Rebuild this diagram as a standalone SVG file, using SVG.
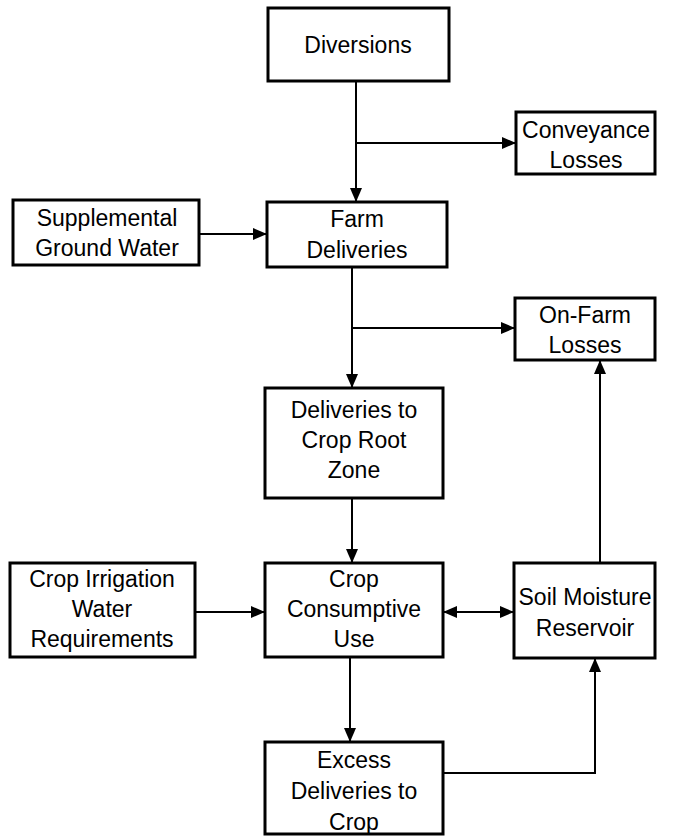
<svg xmlns="http://www.w3.org/2000/svg" width="683" height="838" viewBox="0 0 683 838">
<defs>
<marker id="ah" viewBox="0 0 14 12" refX="14" refY="6" markerWidth="14" markerHeight="12" markerUnits="userSpaceOnUse" orient="auto-start-reverse">
<path d="M0,0 L14,6 L0,12 Z" fill="#000"/>
</marker>
</defs>
<style>
.box{fill:#fff;stroke:#000;stroke-width:3}
.t{font-family:"Liberation Sans",Arial,sans-serif;font-size:23px;fill:#000;text-anchor:middle}
.c{fill:none;stroke:#000;stroke-width:2}
</style>
<rect width="683" height="838" fill="#fff"/>
<g id="connectors">
<path class="c" d="M356,81 V202" marker-end="url(#ah)"/>
<path class="c" d="M356,143 H516" marker-end="url(#ah)"/>
<path class="c" d="M199,234 H267" marker-end="url(#ah)"/>
<path class="c" d="M352,267 V388" marker-end="url(#ah)"/>
<path class="c" d="M352,328 H515" marker-end="url(#ah)"/>
<path class="c" d="M352,498 V563" marker-end="url(#ah)"/>
<path class="c" d="M195,612 H265" marker-end="url(#ah)"/>
<path class="c" d="M443,612 H514" marker-start="url(#ah)" marker-end="url(#ah)"/>
<path class="c" d="M600,563 V360" marker-end="url(#ah)"/>
<path class="c" d="M350,657 V742" marker-end="url(#ah)"/>
<path class="c" d="M443,773 H595 V658" marker-end="url(#ah)"/>
</g>
<g id="diversions">
<rect class="box" x="268" y="8" width="181" height="73"/>
<text class="t" x="358" y="53">Diversions</text>
</g>
<g id="conveyance-losses">
<rect class="box" x="516" y="112" width="139" height="62"/>
<text class="t" x="586" y="138">Conveyance</text>
<text class="t" x="586" y="168">Losses</text>
</g>
<g id="supplemental-ground-water">
<rect class="box" x="13" y="200" width="186" height="65"/>
<text class="t" x="107" y="226">Supplemental</text>
<text class="t" x="107" y="256">Ground Water</text>
</g>
<g id="farm-deliveries">
<rect class="box" x="267" y="202" width="180" height="65"/>
<text class="t" x="357" y="227">Farm</text>
<text class="t" x="357" y="258">Deliveries</text>
</g>
<g id="on-farm-losses">
<rect class="box" x="515" y="298" width="140" height="62"/>
<text class="t" x="585" y="323">On-Farm</text>
<text class="t" x="585" y="353">Losses</text>
</g>
<g id="deliveries-root-zone">
<rect class="box" x="265" y="388" width="178" height="110"/>
<text class="t" x="354" y="418">Deliveries to</text>
<text class="t" x="354" y="448">Crop Root</text>
<text class="t" x="354" y="478">Zone</text>
</g>
<g id="crop-irrigation">
<rect class="box" x="10" y="563" width="185" height="94"/>
<text class="t" x="102" y="587">Crop Irrigation</text>
<text class="t" x="102" y="617">Water</text>
<text class="t" x="102" y="647">Requirements</text>
</g>
<g id="crop-consumptive-use">
<rect class="box" x="265" y="563" width="178" height="94"/>
<text class="t" x="354" y="587">Crop</text>
<text class="t" x="354" y="617">Consumptive</text>
<text class="t" x="354" y="647">Use</text>
</g>
<g id="soil-moisture">
<rect class="box" x="514" y="563" width="141" height="95"/>
<text class="t" x="585" y="605">Soil Moisture</text>
<text class="t" x="585" y="636">Reservoir</text>
</g>
<g id="excess-deliveries">
<rect class="box" x="265" y="742" width="178" height="92"/>
<text class="t" x="354" y="768">Excess</text>
<text class="t" x="354" y="799">Deliveries to</text>
<text class="t" x="354" y="830">Crop</text>
</g>
</svg>
